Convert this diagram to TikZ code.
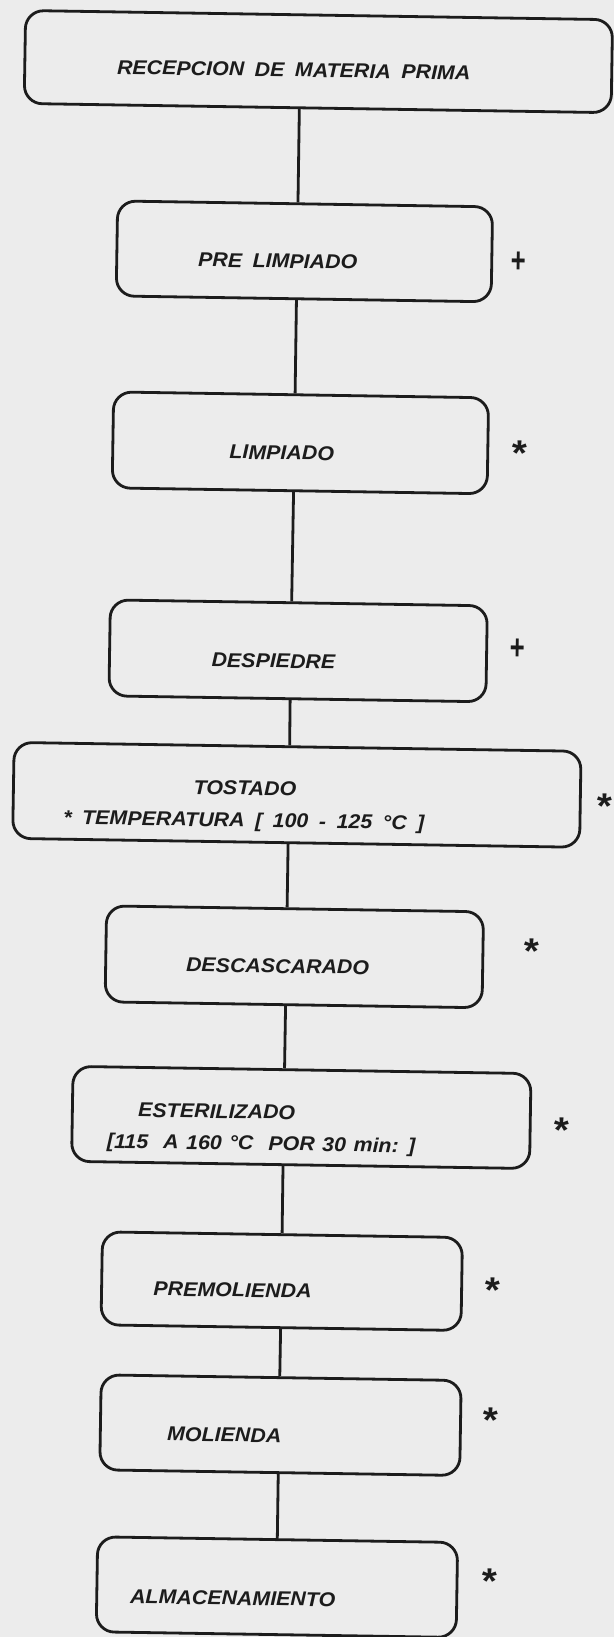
\documentclass[tikz,border=0pt]{standalone}
\usepackage{fontspec}
\newfontfamily\flowfont{Liberation Sans}[FakeStretch=1.07]
\usetikzlibrary{calc}
\definecolor{paper}{RGB}{236,236,236}
\definecolor{ink}{RGB}{28,28,28}
\newcommand\flowwide{\spaceskip 10.5pt\relax}
\newcommand\flowmid{\spaceskip 7.5pt\relax}
\begin{document}
\begin{tikzpicture}[x=1pt,y=-1pt,
  box/.style={draw=ink, line width=2.8pt, rounded corners=18pt, inner sep=0pt, transform shape},
  conn/.style={draw=ink, line width=2.8pt},
  lbl/.style={text=ink, font=\flowfont\fontsize{20}{24}\selectfont\bfseries\itshape\flowwide, inner sep=0pt, anchor=base, transform shape},
  sym/.style={text=ink, font=\flowfont\fontsize{36}{36}\selectfont\bfseries\itshape, inner sep=0pt, anchor=base, transform shape},
  plusmk/.style={text=ink, font=\flowfont\fontsize{32}{32}\selectfont\bfseries\itshape, inner sep=0pt, anchor=base, transform shape}]
\useasboundingbox (0,0) rectangle (614,1637);
\fill[paper] (0,0) rectangle (614,1637);
\begin{scope}[rotate around={-0.9:(307,818)}]
% boxes
\node[box, minimum width=587pt, minimum height=93pt] (b1) at (306.5,61.5) {};
\node[box, minimum width=375pt, minimum height=95pt] (b2) at (295.5,251.5) {};
\node[box, minimum width=375pt, minimum height=96pt] (b3) at (294.5,443) {};
\node[box, minimum width=377pt, minimum height=96pt] (b4) at (295.5,651) {};
\node[box, minimum width=567pt, minimum height=96pt] (b5) at (296.5,795) {};
\node[box, minimum width=377pt, minimum height=96pt] (b6) at (296.5,957) {};
\node[box, minimum width=458pt, minimum height=95pt] (b7) at (306,1117.5) {};
\node[box, minimum width=360pt, minimum height=93pt] (b8) at (289,1281.5) {};
\node[box, minimum width=360pt, minimum height=95pt] (b9) at (290,1425.5) {};
\node[box, minimum width=360pt, minimum height=95pt] (b10) at (289,1587.5) {};
% texts
\node[lbl] (t1) at (282,77.2) {RECEPCION DE MATERIA PRIMA};
\node[lbl] (t2) at (269,268.5) {PRE LIMPIADO};
\node[lbl] (t3) at (276,460) {LIMPIADO};
\node[lbl] (t4) at (271,668.5) {DESPIEDRE};
\node[lbl] (t5a) at (244.6,796) {TOSTADO};
\node[lbl] (t5b) at (244,828) {* TEMPERATURA [ 100 - 125 °C ]};
\node[lbl] (t6) at (280,973.5) {DESCASCARADO};
\node[lbl, anchor=base west] (t7a) at (142.7,1119.6) {ESTERILIZADO};
\node[lbl, anchor=base west] (t7b) at (112,1151) {\flowmid[115\ \ A 160 °C\ \ POR 30 min: ]};
\node[lbl] (t8) at (240,1298) {PREMOLIENDA};
\node[lbl] (t9) at (234,1443) {MOLIENDA};
\node[lbl] (t10) at (245,1606) {ALMACENAMIENTO};
% side marks
\node[plusmk] (m2) at (509,269.5) {\scalebox{0.75}[1.1]{+}};
\node[sym] (m3) at (512,462.5) {*};
\node[plusmk] (m4) at (514,656.5) {\scalebox{0.75}[1.1]{+}};
\node[sym] (m5) at (603,813.5) {*};
\node[sym] (m6) at (532,960) {*};
\node[sym] (m7) at (565,1138.5) {*};
\node[sym] (m8) at (499,1299.5) {*};
\node[sym] (m9) at (499,1429.5) {*};
\node[sym] (m10) at (500,1590.5) {*};
% connectors
\draw[conn] ($(b1.south west)!0.469!(b1.south east)$) -- ($(b2.north west)!0.481!(b2.north east)$);
\draw[conn] ($(b2.south west)!0.481!(b2.south east)$) -- ($(b3.north west)!0.484!(b3.north east)$);
\draw[conn] ($(b3.south west)!0.484!(b3.south east)$) -- ($(b4.north west)!0.481!(b4.north east)$);
\draw[conn] ($(b4.south west)!0.481!(b4.south east)$) -- ($(b5.north west)!0.486!(b5.north east)$);
\draw[conn] ($(b5.south west)!0.486!(b5.south east)$) -- ($(b6.north west)!0.479!(b6.north east)$);
\draw[conn] ($(b6.south west)!0.479!(b6.south east)$) -- ($(b7.north west)!0.462!(b7.north east)$);
\draw[conn] ($(b7.south west)!0.462!(b7.south east)$) -- ($(b8.north west)!0.499!(b8.north east)$);
\draw[conn] ($(b8.south west)!0.499!(b8.south east)$) -- ($(b9.north west)!0.496!(b9.north east)$);
\draw[conn] ($(b9.south west)!0.496!(b9.south east)$) -- ($(b10.north west)!0.499!(b10.north east)$);
\end{scope}
\end{tikzpicture}
\end{document}
